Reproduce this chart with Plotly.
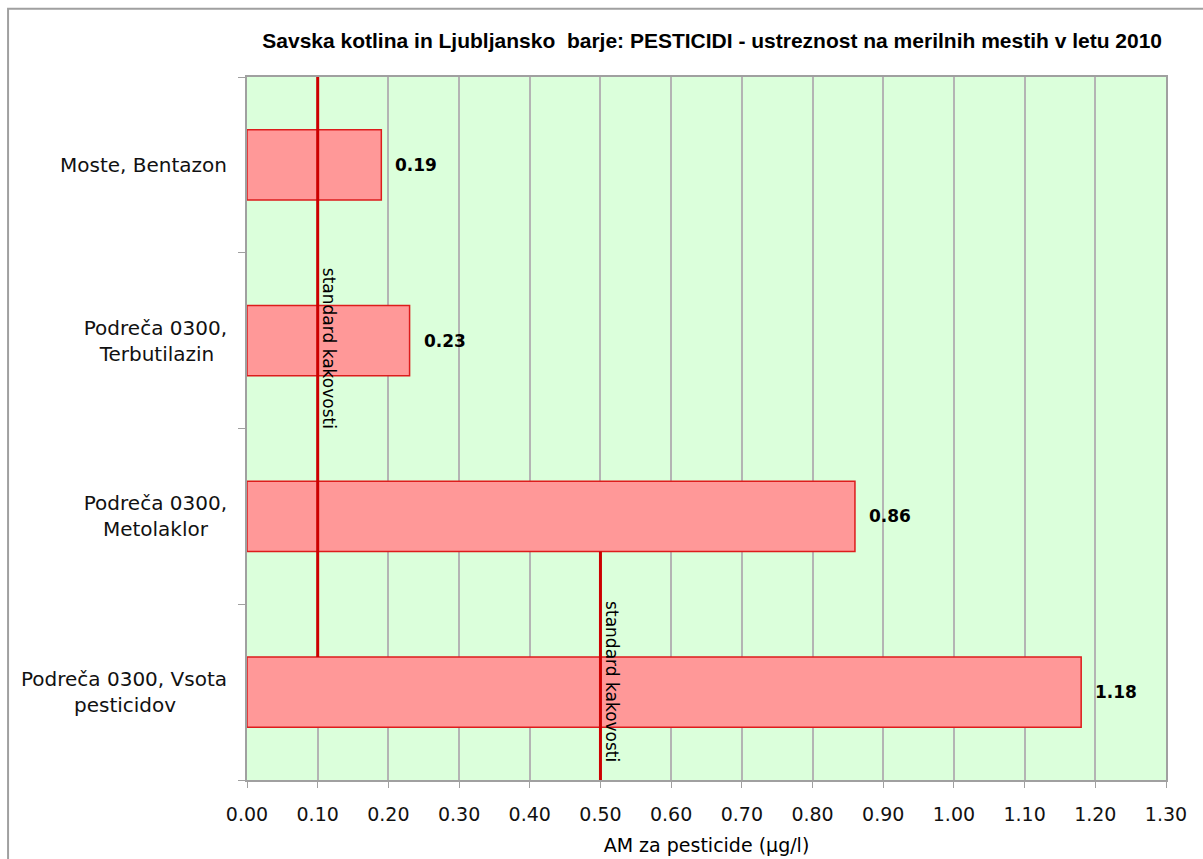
import plotly.graph_objects as go

categories = [["Moste, Bentazon"], ["Podreča 0300,", "Terbutilazin"], ["Podreča 0300,", "Metolaklor"], ["Podreča 0300, Vsota", "pesticidov"]]
label_pad = [0, 2, 3, 8]  # trailing spaces to centre the second line
values = [0.19, 0.23, 0.86, 1.18]
value_labels = ["0.19", "0.23", "0.86", "1.18"]
standards = [0.1, 0.5]
standard_text = "standard kakovosti"
x_ticks = [round(i * 0.1, 2) for i in range(14)]
x_tick_labels = [f"{v:.2f}" for v in x_ticks]

ypos = list(range(len(categories)))
bar_h = 0.4
FONT = "DejaVu Sans"

tick_text = []
for lines, pad in zip(categories, label_pad):
    if len(lines) == 1:
        tick_text.append(lines[0])
    else:
        tick_text.append(lines[0] + "<br>" + lines[1] + "\u00a0" * pad)

fig = go.Figure()
fig.add_trace(go.Bar(
    x=values, y=ypos, orientation="h", width=bar_h,
    marker=dict(color="#ff9898", line=dict(color="#dd1c1c", width=1.5)),
    hoverinfo="skip",
))

# value labels
for v, lab, y in zip(values, value_labels, ypos):
    fig.add_annotation(x=v, y=y, xref="x", yref="y", text=f"<b>{lab}</b>", showarrow=False,
                       xanchor="left", xshift=12,
                       font=dict(family=FONT, size=17, color="black"))

# standard lines
fig.add_trace(go.Scatter(
    x=[standards[0], standards[0]], y=[-0.5, ypos[3] - bar_h / 2],
    mode="lines", line=dict(color="#cc0000", width=3), hoverinfo="skip",
))
fig.add_trace(go.Scatter(
    x=[standards[1], standards[1]], y=[ypos[2] + bar_h / 2, 3.5],
    mode="lines", line=dict(color="#cc0000", width=3), hoverinfo="skip",
))

fig.add_annotation(x=standards[0], y=1.045, xref="x", yref="y", text=standard_text,
                   textangle=90, showarrow=False, xanchor="left", xshift=0,
                   font=dict(family=FONT, size=17, color="black"))
fig.add_annotation(x=standards[1], y=2.94, xref="x", yref="y", text=standard_text,
                   textangle=90, showarrow=False, xanchor="left", xshift=0,
                   font=dict(family=FONT, size=17, color="black"))

fig.add_shape(type="rect", xref="paper", yref="paper", x0=-0.26, x1=1.2, y0=-0.3, y1=1.097,
              line=dict(color="#a0a0a0", width=2), fillcolor="rgba(0,0,0,0)", layer="below")

fig.update_layout(
    width=1203, height=859,
    margin=dict(l=247, r=37, t=77, b=79),
    paper_bgcolor="white", plot_bgcolor="#dbffdb",
    showlegend=False,
    title=dict(text="<b>Savska kotlina in Ljubljansko  barje: PESTICIDI - ustreznost na merilnih mestih v letu 2010</b>",
               x=0.592, xanchor="center", y=0.953, yanchor="middle",
               font=dict(family="Liberation Sans, Arial", size=21, color="black")),
    font=dict(family=FONT, size=19, color="black"),
)
fig.update_xaxes(range=[0, 1.3], tickvals=x_ticks, ticktext=x_tick_labels, automargin=False,
                 showgrid=True, gridcolor="#b4b4b4", gridwidth=1.5,
                 showline=True, linecolor="#a0a0a0", linewidth=2, mirror=True,
                 ticks="outside", ticklen=6, tickcolor="#a0a0a0", zeroline=False,
                 ticklabelstandoff=10,
                 tickfont=dict(family=FONT, size=19, color="#111"),
                 title=dict(text="AM za pesticide (µg/l)", font=dict(family=FONT, size=19), standoff=15))
fig.update_yaxes(range=[3.5, -0.5], tickvals=ypos, ticktext=tick_text, automargin=False,
                 showgrid=False, zeroline=False, showline=True, linecolor="#a0a0a0", linewidth=2,
                 mirror=True, ticks="", ticklabelstandoff=14,
                 minor=dict(tickvals=[-0.5, 0.5, 1.5, 2.5, 3.5], ticks="outside", ticklen=7,
                            tickcolor="#a0a0a0", showgrid=False),
                 tickfont=dict(family=FONT, size=20, color="#111"))

fig.write_html("out.html")
